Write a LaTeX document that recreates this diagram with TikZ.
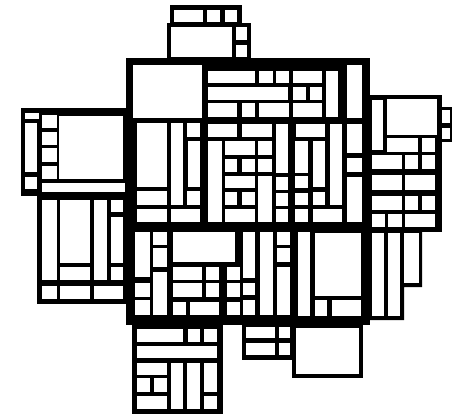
\documentclass[tikz,border=0pt]{standalone}
\begin{document}
\begin{tikzpicture}[x=0.75pt,y=-0.75pt,
  blk/.style={fill=black},
  cellw/.style={fill=white}]
\useasboundingbox[fill=white] (0,0) rectangle (452,417);
% black blocks
\foreach \a/\b/\c/\d in {
 170/5/242/26, 167/23/251/60, 126/58/370/325,
 40/108/128/197, 21/108/41/196, 37/195/130/304,
 368/95/442/232, 438/107/452/142,
 132/322/223/414, 242/322/295/360, 292/322/363/378}
 \fill[blk] (\a,\b) rectangle (\c,\d);
\fill[blk] (368,228) -- (422,228) -- (422,287) -- (404,287) -- (404,320) -- (368,320) -- cycle;
% white cells
\foreach \a/\b/\c/\d in {
 % top box
 174/10/203/22, 207/10/220/22, 225/10/237/22,
 171/27/232/57, 236/27/247/40, 236/45/247/57,
 % main upper left
 133/65/202/118,
 137/123/167/187, 171/123/183/205, 187/123/200/137, 188/141/200/187,
 187/191/200/205, 137/191/167/205, 137/209/167/222, 171/209/200/222,
 % main upper right rows 1-3
 208/71/255/83, 259/71/273/83, 276/71/289/83, 293/71/322/83,
 326/71/338/117,
 208/87/288/100, 293/87/306/100, 310/87/322/100,
 208/103/237/117, 242/103/255/117, 259/103/289/117, 293/103/322/117,
 347/65/362/118,
 % main middle rows
 208/124/237/137, 242/124/272/137, 276/124/288/173, 296/124/325/137, 330/124/342/205,
 347/124/362/153, 347/158/362/172, 347/177/362/222,
 208/141/222/222,
 225/141/255/155, 258/141/272/155,
 225/159/237/172, 242/159/255/172, 258/159/272/172,
 225/176/255/188, 258/176/272/222,
 225/192/237/205, 242/192/255/205,
 225/209/255/222,
 276/177/288/190, 276/193/288/206, 276/209/288/222,
 295/141/308/173, 295/176/308/188, 295/193/308/205,
 313/141/325/187, 313/192/325/205,
 295/209/308/222, 313/209/342/222,
 % main lower half
 135/232/150/277, 135/283/150/297, 135/300/150/315,
 153/232/167/245, 153/248/167/267, 153/272/167/315,
 173/232/235/262,
 173/267/202/280, 206/267/219/280, 227/267/240/280,
 173/283/202/297, 206/283/219/297, 227/283/240/297,
 173/302/186/315, 190/302/219/315, 227/302/240/315,
 243/232/255/278, 243/283/255/295, 243/300/255/315,
 260/232/273/315,
 277/232/290/245, 277/248/290/262, 277/267/290/315,
 298/232/310/316,
 315/233/361/296,
 315/300/327/316, 332/300/361/316,
 % lower right
 372/233/384/316, 388/233/400/316, 404/233/419/283,
 % right box
 372/100/383/150, 387/99/437/135, 387/138/418/152, 422/138/435/152,
 372/155/402/169, 405/155/418/169, 422/155/435/169,
 372/175/402/190, 405/175/435/190,
 372/196/402/210, 405/196/418/210, 422/196/435/210,
 372/214/385/227, 388/214/402/227, 405/214/435/227,
 442/110/450/123, 442/128/450/139,
 % left upper
 25/113/39/119,
 25/123/37/172, 25/177/37/189,
 42/115/57/128, 42/132/57/145, 42/148/57/162, 42/166/57/179,
 59/116/123/179,
 42/183/125/192,
 % left lower
 42/200/57/280, 60/200/90/263, 60/267/90/280, 94/200/107/280,
 111/200/123/212, 111/217/123/263, 111/267/123/280,
 42/286/57/299, 60/286/90/299, 94/286/123/299,
 % bottom box
 137/329/183/342, 188/329/200/342, 204/329/217/342,
 137/346/217/358,
 137/363/167/375, 171/363/183/409, 187/363/200/409, 204/363/217/392, 204/396/217/409,
 137/378/150/392, 154/378/167/392,
 137/396/167/409,
 % bottom small and big
 246/327/275/338, 279/327/290/338, 246/343/275/355, 279/343/290/355,
 296/328/359/374}
 \fill[cellw] (\a,\b) rectangle (\c,\d);
\end{tikzpicture}
\end{document}
